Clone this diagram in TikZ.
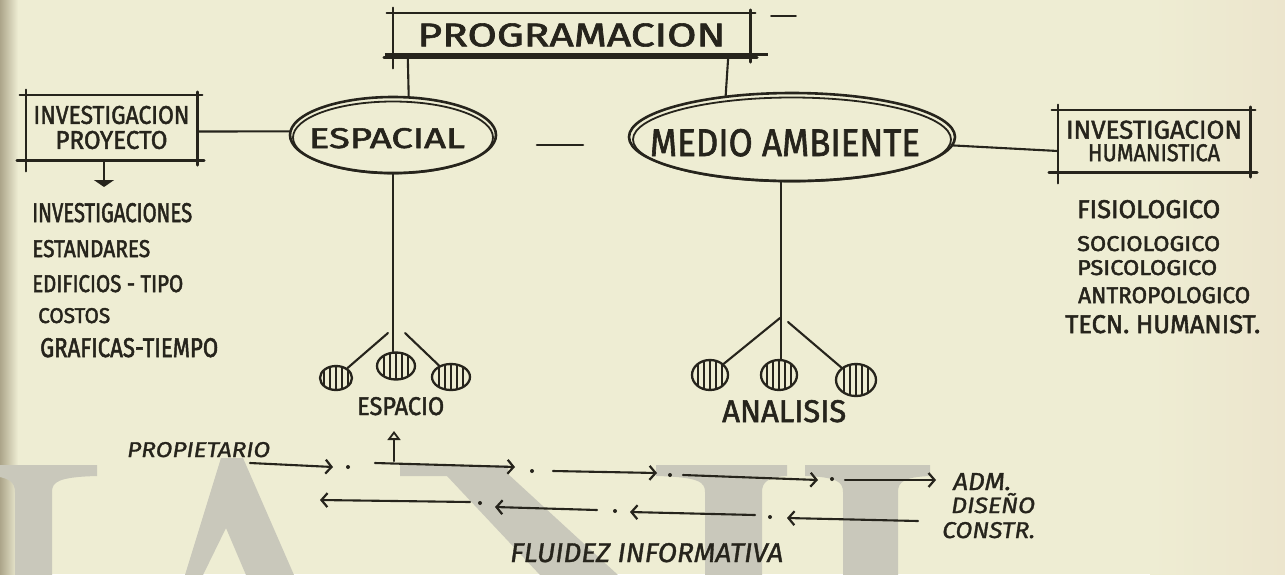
\documentclass[tikz,border=0pt]{standalone}
\usepackage{graphicx}
\usepackage{fontspec}
\setmainfont{Fira Sans}
\newfontfamily\penfont[FakeBold=1.8]{Fira Sans}
\newfontfamily\penlist[FakeBold=2.2]{Fira Sans}
\newfontfamily\penit[FakeBold=1.2]{Fira Sans}
\usetikzlibrary{calc,shapes.geometric,arrows.meta}
\definecolor{paper}{RGB}{238,237,211}
\definecolor{paperR}{RGB}{236,229,205}
\definecolor{paperedge}{RGB}{172,165,138}
\definecolor{ink}{RGB}{38,36,28}
\definecolor{wm}{RGB}{201,200,187}
\newcommand\hw[3]{\resizebox{#1pt}{#2pt}{#3}}
\newcommand\wmStem[4]{%
  \fill[wm] (#1,465) -- (#2,465) -- (#2,476) .. controls ({#4+6},477) and (#4,482) .. (#4,492)
    -- (#4,575) -- (#3,575) -- (#3,492) .. controls (#3,482) and ({#3-6},477) .. (#1,476) -- cycle;}
\newcommand\sketchframe[1]{%
  \draw[boxline] ($(#1.north west)+(-6,0)$) -- ($(#1.north east)+(5,0)$);
  \draw[boxline] ($(#1.south west)+(-9,0)$) -- ($(#1.south east)+(7,0)$);
  \draw[boxline] ($(#1.north west)+(0,-5)$) -- ($(#1.south west)+(0,11)$);
  \draw[boxline] ($(#1.north east)+(0,-3)$) -- ($(#1.south east)+(0,5)$);}
\begin{document}
\begin{tikzpicture}[x=1pt,y=-1pt,
  inkline/.style={draw=ink,line width=2.1pt,line cap=round},
  boxline/.style={draw=ink,line width=2.6pt,line cap=round},
  framebox/.style={rectangle,inner sep=0pt,align=center,text=ink,font=\penfont\fontsize{10}{25}\selectfont},
  oval/.style={ellipse,draw=ink,line width=2.6pt,inner sep=0pt,text=ink,font=\penfont},
  lab/.style={anchor=base west,inner sep=0pt,text=ink,font=\penfont},
  boldlab/.style={lab,font=\penlist},
  itlab/.style={lab,font=\penit\itshape},
  hatchball/.style={ellipse,draw=ink,line width=2.3pt,inner sep=0pt,
    path picture={\foreach \k in {-2,...,2}{\draw[ink,line width=1.6pt] ($(path picture bounding box.center)+(\k*6,-25)$) -- ++(0,50);}}},
  fwd/.style={inkline,-{Straight Barb[length=6pt,width=14pt,line width=2.2pt]}},
  dotmark/.style={circle,fill=ink,inner sep=0pt,minimum size=4pt}
]
\useasboundingbox (0,0) rectangle (1285,574);
% paper
\fill[paper] (0,0) rectangle (1285,574);
\shade[left color=paper,right color=paperR] (1150,0) rectangle (1285,574);
\shade[left color=paperedge,right color=paper] (0,0) rectangle (18,574);
% watermark
\wmStem{-10}{97}{15}{52}
\fill[wm,even odd rule] (221,458) -- (243,458) -- (294,575) -- (185,575) -- cycle
  (226,528) -- (246,575) -- (203,575) -- cycle;
\fill[wm] (400,465) -- (508,465) -- (508,474) -- (618,575) -- (540,575) -- (447,476) -- (400,476) -- cycle;
\wmStem{656}{787}{705}{762}
\wmStem{805}{930}{843}{898}

% boxes
\node[framebox,minimum width=357pt,minimum height=44pt] (prog) at (571.5,35) {\hw{308}{23}{PROGRAMACION}};
\sketchframe{prog}
\draw[ink,line width=2.6pt] ($(prog.south west)+(-8,-3)$) -- ($(prog.south east)+(18,-3)$);
\coordinate (strayL) at (771,16);
\coordinate (strayR) at (796,16);
\draw[inkline,line width=1.6pt] (strayL) -- (strayR);

\node[framebox,minimum width=171pt,minimum height=65pt] (ipro) at (111.5,127.5)
  {\hw{156}{18}{INVESTIGACION}\\\hw{112}{18}{PROYECTO}};
\sketchframe{ipro}
\node[framebox,font=\penfont\fontsize{10}{22.5}\selectfont,minimum width=192pt,minimum height=62pt] (ihum) at (1154,141)
  {\hw{176}{18}{INVESTIGACION}\\\hw{132}{17}{HUMANISTICA}};
\sketchframe{ihum}

% ellipses
\node[oval,minimum width=206pt,minimum height=76pt] (esp) at (393,135)
  {\makebox[0pt]{\hspace*{-12pt}\raisebox{-13pt}[0pt][0pt]{\hw{156}{20}{ESPACIAL}}}};
\draw[ink,line width=1.8pt] ($(esp.center)+(0,2.5)$) ellipse [x radius=100, y radius=36];
\node[oval,minimum width=326pt,minimum height=88pt] (med) at (792,137)
  {\makebox[0pt]{\hspace*{-14pt}\raisebox{-19pt}[0pt][0pt]{\hw{270}{27}{MEDIO AMBIENTE}}}};
\draw[ink,line width=1.8pt] ($(med.center)+(0,2.5)$) ellipse [x radius=159, y radius=42];

% connectors top
\draw[inkline] ([xshift=15pt]prog.south west) -- (esp.68);
\draw[inkline] ([xshift=-22pt]prog.south east) -- (med.148);
\draw[inkline] ([yshift=-4pt]ipro.east) -- (esp.178);
\draw[inkline] (med.-3) -- ([yshift=-10pt]ihum.west);
\coordinate (dashL) at (537,145);
\coordinate (dashR) at (583,145);
\draw[inkline,line width=2.6pt] (dashL) -- (dashR);

% left list
\coordinate (iproArrow) at (104,187);
\draw[inkline,-{Triangle[length=7pt,width=20pt]}] ([xshift=-7.5pt]ipro.south) -- (iproArrow);
\node[boldlab] (l1) at (32,222) {\hw{160}{19}{INVESTIGACIONES}};
\node[boldlab] (l2) at (32,257) {\hw{118}{17}{ESTANDARES}};
\node[boldlab] (l3) at (32,292) {\hw{151}{17}{EDIFICIOS - TIPO}};
\node[boldlab] (l4) at (38,323) {\hw{72}{15}{COSTOS}};
\node[boldlab] (l5) at (40,357) {\hw{178}{19}{GRAFICAS-TIEMPO}};

% right list
\node[boldlab] (r1) at (1077,218) {\hw{143}{18}{FISIOLOGICO}};
\node[boldlab] (r2) at (1077,251) {\hw{143}{15}{SOCIOLOGICO}};
\node[boldlab] (r3) at (1077,275) {\hw{140}{15}{PSICOLOGICO}};
\node[boldlab] (r4) at (1078,303) {\hw{172}{16}{ANTROPOLOGICO}};
\node[boldlab] (r5) at (1065,333) {\hw{195}{18}{TECN. HUMANIST.}};

% espacio tree
\node[hatchball,minimum width=32pt,minimum height=24pt] (sL) at (336,378) {};
\node[hatchball,minimum width=38pt,minimum height=27pt] (sM) at (396,366) {};
\node[hatchball,minimum width=38pt,minimum height=26pt] (sR) at (451,377) {};
\draw[inkline] (esp.south) -- (esp.south |- sM.north);
\coordinate (jSL) at (388,333);
\coordinate (jSR) at (405,333);
\draw[inkline] (jSL) -- (sL);
\draw[inkline] (jSR) -- (sR);
\node[lab] (espacio) at (357,415) {\hw{87}{18}{ESPACIO}};

% analisis tree
\node[hatchball,minimum width=36pt,minimum height=30pt] (mL) at (710,375) {};
\node[hatchball,minimum width=36pt,minimum height=30pt] (mM) at (779,375) {};
\node[hatchball,minimum width=40pt,minimum height=32pt] (mR) at (856,380) {};
\draw[inkline] (med.-104) -- (med.-104 |- mM.north);
\coordinate (jML) at (780,318);
\coordinate (jMR) at (788,322);
\draw[inkline] (jML) -- (mL);
\draw[inkline] (jMR) -- (mR);
\node[lab] (analisis) at (722,422) {\hw{124}{22}{ANALISIS}};

% information flow
\coordinate (upB) at (394,461);
\coordinate (upT) at (394,431);
\draw[inkline,-{Triangle[open,length=9pt,width=13pt,line width=1.8pt]}] (upB) -- (upT);
\node[itlab] (prop) at (127,457) {\hw{143}{15}{PROPIETARIO}};
\coordinate (f1s) at (250,463); \coordinate (f1e) at (333,467);
\coordinate (f2s) at (375,463); \coordinate (f2e) at (515,467);
\coordinate (f3s) at (553,471); \coordinate (f3e) at (657,473);
\coordinate (f4s) at (683,475); \coordinate (f4e) at (818,480);
\coordinate (f5s) at (845,480); \coordinate (f5e) at (936,480);
\draw[fwd] (f1s) -- (f1e);
\draw[fwd] (f2s) -- (f2e);
\draw[fwd] (f3s) -- (f3e);
\draw[fwd] (f4s) -- (f4e);
\draw[fwd] (f5s) -- (f5e);
\node[dotmark] (d1) at (348,467) {};
\node[dotmark] (d2) at (532,471) {};
\node[dotmark] (d3) at (670,475) {};
\node[dotmark] (d4) at (832,479) {};
\coordinate (b1s) at (470,502); \coordinate (b1e) at (320,500);
\coordinate (b2s) at (597,510); \coordinate (b2e) at (495,507);
\coordinate (b3s) at (755,515); \coordinate (b3e) at (630,512);
\coordinate (b4s) at (918,521); \coordinate (b4e) at (787,518);
\draw[fwd] (b1s) -- (b1e);
\draw[fwd] (b2s) -- (b2e);
\draw[fwd] (b3s) -- (b3e);
\draw[fwd] (b4s) -- (b4e);
\node[dotmark] (e1) at (480,503) {};
\node[dotmark] (e2) at (615,511) {};
\node[dotmark] (e3) at (770,517) {};
\node[itlab] (adm) at (953,490) {\hw{58}{17}{ADM.}};
\node[itlab] (dis) at (951,513) {\hw{84}{20}{DISEÑO}};
\node[itlab] (con) at (942,538) {\hw{93}{16}{CONSTR.}};
\node[itlab] (flu) at (510,562) {\hw{273}{19}{FLUIDEZ INFORMATIVA}};
\end{tikzpicture}
\end{document}
